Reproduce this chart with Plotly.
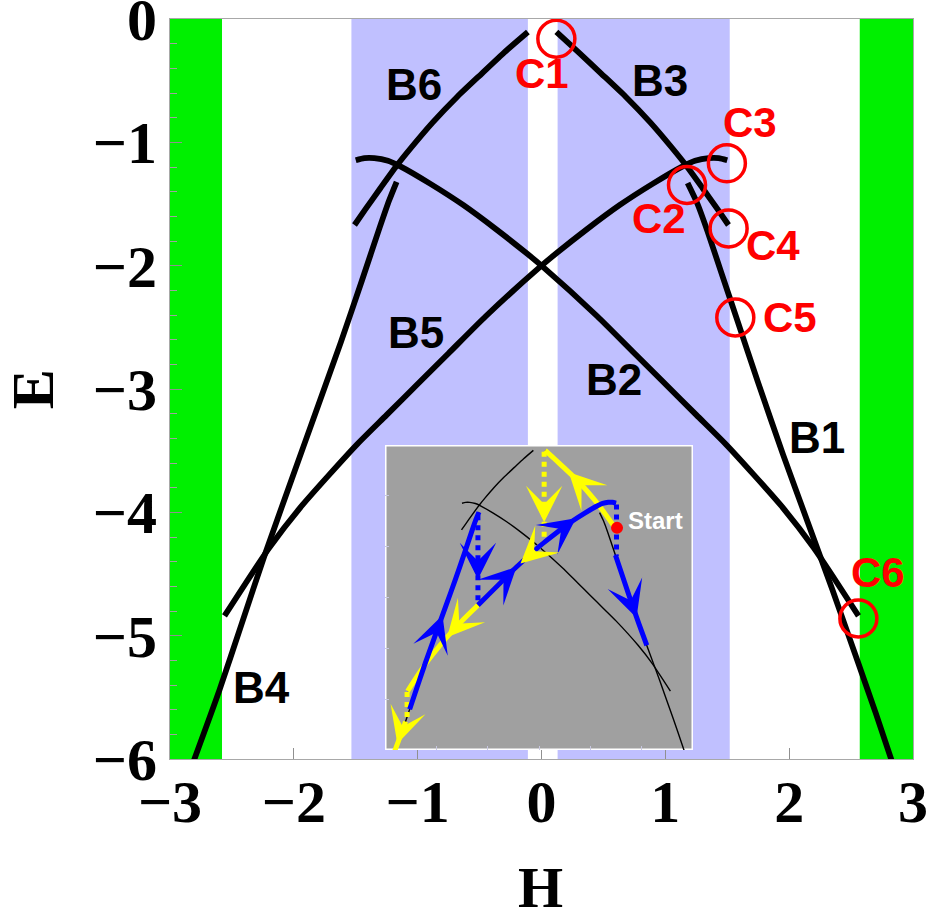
import plotly.graph_objects as go

# ---- energy branches E(H) ----
B1_H = [1.18, 1.26, 1.34, 1.45, 1.58, 1.75, 1.95, 2.15, 2.35, 2.55, 2.70, 2.83]
B1_E = [-1.33, -1.50, -1.72, -2.05, -2.44, -2.95, -3.53, -4.08, -4.63, -5.20, -5.63, -6.02]

B4_H = [-1.17, -1.23, -1.31, -1.45, -1.62, -1.82, -2.02, -2.24, -2.42, -2.60, -2.81]
B4_E = [-1.32, -1.47, -1.70, -2.12, -2.62, -3.18, -3.74, -4.36, -4.90, -5.44, -6.02]

B3_H = [0.12, 0.30, 0.48, 0.68, 0.88, 1.05, 1.17, 1.30, 1.42, 1.51]
B3_E = [-0.105, -0.27, -0.44, -0.63, -0.84, -1.04, -1.19, -1.37, -1.54, -1.67]

B6_H = [-0.11, -0.30, -0.48, -0.68, -0.88, -1.05, -1.17, -1.30, -1.42, -1.51]
B6_E = [-0.105, -0.27, -0.44, -0.63, -0.84, -1.04, -1.19, -1.37, -1.54, -1.67]

B2_H = [-1.50, -1.43, -1.35, -1.24, -1.14, -0.90, -0.63, -0.36, -0.12, 0.0,
        0.45, 0.75, 1.00, 1.25, 1.50, 1.93, 2.20, 2.56]
B2_E = [-1.145, -1.128, -1.128, -1.15, -1.195, -1.335, -1.51, -1.71, -1.90, -2.0,
        -2.41, -2.71, -2.96, -3.21, -3.46, -3.94, -4.29, -4.84]

B5_H = [-2.56, -2.20, -1.93, -1.50, -1.25, -1.00, -0.75, -0.45, 0.0, 0.12,
        0.36, 0.63, 0.90, 1.14, 1.24, 1.35, 1.43, 1.50]
B5_E = [-4.84, -4.29, -3.94, -3.46, -3.21, -2.96, -2.71, -2.41, -2.0, -1.90,
        -1.71, -1.51, -1.335, -1.195, -1.15, -1.128, -1.128, -1.145]

# field windows
GREEN_BANDS = [(-3.0, -2.58), (2.57, 3.0)]
BLUE_BANDS = [(-1.535, -0.11), (0.13, 1.52)]

# critical points
C_NAMES = ["C1", "C2", "C3", "C4", "C5", "C6"]
C_H = [0.12, 1.175, 1.497, 1.511, 1.565, 2.559]
C_E = [-0.16, -1.346, -1.170, -1.698, -2.42, -4.861]
C_LABEL_H = [0.0, 0.946, 1.68, 1.873, 2.008, 2.72]
C_LABEL_E = [-0.44, -1.62, -0.84, -1.84, -2.42, -4.49]

B_NAMES = ["B1", "B2", "B3", "B4", "B5", "B6"]
B_LABEL_H = [2.223, 0.583, 0.96, -2.258, -1.016, -1.03]
B_LABEL_E = [-3.39, -2.92, -0.50, -5.42, -2.54, -0.53]

X_TICKS = [-3, -2, -1, 0, 1, 2, 3]
X_TICKTEXT = ["\u22123", "\u22122", "\u22121", "0", "1", "2", "3"]
Y_TICKS = [0, -1, -2, -3, -4, -5, -6]
Y_TICKTEXT = ["0", "\u22121", "\u22122", "\u22123", "\u22124", "\u22125", "\u22126"]

# ---- hysteresis paths shown in the inset ----
# yellow: B3 up to C1, drop to B5, down B5, drop to B4
YEL_DROP1_H, YEL_DROP1_E = [0.10, 0.10], [-0.13, -1.92]
YEL_B5_H = [0.10, 0.0, -0.45, -0.75, -1.00, -1.25, -1.50, -1.93, -2.20, -2.56]
YEL_B5_E = [-1.915, -2.0, -2.41, -2.71, -2.96, -3.21, -3.46, -3.94, -4.29, -4.84]
YEL_DROP2_H, YEL_DROP2_E = [-2.57, -2.57], [-4.86, -5.40]
YEL_B4_H = [-2.60, -2.70, -2.81]
YEL_B4_E = [-5.44, -5.72, -6.02]

# blue: up B4, drop to B5, up B5 to C3, drop to B1, down B1
BLU_B4_H = [-2.52, -2.42, -2.24, -2.02, -1.82, -1.62, -1.45, -1.31, -1.23, -1.17]
BLU_B4_E = [-5.20, -4.90, -4.36, -3.74, -3.18, -2.62, -2.12, -1.70, -1.47, -1.32]
BLU_DROP1_H, BLU_DROP1_E = [-1.19, -1.19], [-1.38, -3.13]
BLU_B5_H = [-1.19, -1.00, -0.75, -0.45, 0.0, 0.12, 0.36, 0.63, 0.90, 1.14, 1.24, 1.35, 1.43, 1.50]
BLU_B5_E = [-3.15, -2.96, -2.71, -2.41, -2.0, -1.90, -1.71, -1.51, -1.335, -1.195, -1.15, -1.128, -1.128, -1.145]
BLU_DROP2_H, BLU_DROP2_E = [1.51, 1.51], [-1.17, -2.18]
BLU_B1_H = [1.49, 1.58, 1.75, 1.95, 2.10]
BLU_B1_E = [-2.17, -2.44, -2.95, -3.53, -3.94]

START_H, START_E = 1.52, -1.63

# arrow heads along the paths: (tail H, tail E, tip H, tip E)
BLUE_ARROWS = [
    (1.78, -3.04, 1.90, -3.40),
    (-2.00, -3.70, -1.88, -3.35),
    (-1.19, -2.30, -1.19, -2.64),
    (-0.65, -2.61, -0.44, -2.40),
    (0.45, -1.64, 0.72, -1.44),
]
YELLOW_ARROWS = [
    (0.80, -0.76, 0.58, -0.535),
    (0.10, -1.18, 0.10, -1.52),
    (-0.12, -2.11, -0.36, -2.33),
    (-1.55, -3.51, -1.79, -3.78),
    (-2.66, -5.55, -2.76, -5.88),
]

BLUE = "#0000ff"
YELLOW = "#ffff00"
RED = "#ff0000"

fig = go.Figure()

# main panel branches
for h, e in [(B1_H, B1_E), (B2_H, B2_E), (B3_H, B3_E),
             (B4_H, B4_E), (B5_H, B5_E), (B6_H, B6_E)]:
    fig.add_trace(go.Scatter(x=h, y=e, mode="lines", xaxis="x", yaxis="y",
                             line=dict(color="black", width=5.8, shape="spline", smoothing=0.6),
                             hoverinfo="skip"))

# critical-point rings
fig.add_trace(go.Scatter(x=C_H, y=C_E, mode="markers", xaxis="x", yaxis="y",
                         marker=dict(symbol="circle-open", size=37, color=RED,
                                     line=dict(color=RED, width=3.5)),
                         hoverinfo="skip"))

# inset: thin branches
for h, e in [(B1_H, B1_E), (B2_H, B2_E), (B3_H, B3_E),
             (B4_H, B4_E), (B5_H, B5_E), (B6_H, B6_E)]:
    fig.add_trace(go.Scatter(x=h, y=e, mode="lines", xaxis="x2", yaxis="y2",
                             line=dict(color="black", width=1.4, shape="spline", smoothing=0.6),
                             hoverinfo="skip"))


def path(h, e, color, dash="solid"):
    fig.add_trace(go.Scatter(x=h, y=e, mode="lines", xaxis="x2", yaxis="y2",
                             line=dict(color=color, width=5, dash=dash,
                                       shape="spline" if dash == "solid" else "linear",
                                       smoothing=0.6),
                             hoverinfo="skip"))


path(B3_H, B3_E, YELLOW)
path(YEL_DROP1_H, YEL_DROP1_E, YELLOW, "dot")
path(YEL_B5_H, YEL_B5_E, YELLOW)
path(YEL_DROP2_H, YEL_DROP2_E, YELLOW, "dot")
path(YEL_B4_H, YEL_B4_E, YELLOW)

path(BLU_B4_H, BLU_B4_E, BLUE)
path(BLU_DROP1_H, BLU_DROP1_E, BLUE, "dot")
path(BLU_B5_H, BLU_B5_E, BLUE)
path(BLU_DROP2_H, BLU_DROP2_E, BLUE, "dot")
path(BLU_B1_H, BLU_B1_E, BLUE)

fig.add_trace(go.Scatter(x=[START_H], y=[START_E], mode="markers", xaxis="x2", yaxis="y2",
                         marker=dict(size=12, color=RED), hoverinfo="skip"))

shapes = []
for x0, x1 in GREEN_BANDS:
    shapes.append(dict(type="rect", xref="x", yref="y", x0=x0, x1=x1, y0=-6, y1=0,
                       fillcolor="#00f000", line_width=0, layer="below"))
for x0, x1 in BLUE_BANDS:
    shapes.append(dict(type="rect", xref="x", yref="y", x0=x0, x1=x1, y0=-6, y1=0,
                       fillcolor="#c0c0ff", line_width=0, layer="below"))
# inset panel
shapes.append(dict(type="rect", xref="x2", yref="y2", x0=-3, x1=3, y0=-6, y1=0,
                   fillcolor="#a0a0a0", line=dict(color="white", width=3), layer="below"))

annotations = []
for name, x, y in zip(B_NAMES, B_LABEL_H, B_LABEL_E):
    annotations.append(dict(x=x, y=y, xref="x", yref="y", text=name, showarrow=False,
                            font=dict(family="Liberation Sans", size=44, color="black", weight="bold")))
for name, x, y in zip(C_NAMES, C_LABEL_H, C_LABEL_E):
    annotations.append(dict(x=x, y=y, xref="x", yref="y", text=name, showarrow=False,
                            font=dict(family="Liberation Sans", size=42, color=RED, weight="bold")))

annotations.append(dict(x=1.70, y=-1.49, xref="x2", yref="y2", text="Start", showarrow=False,
                        xanchor="left",
                        font=dict(family="Liberation Sans", size=24, color="white", weight="bold")))

for arrows, color in [(BLUE_ARROWS, BLUE), (YELLOW_ARROWS, YELLOW)]:
    for tx, ty, hx, hy in arrows:
        annotations.append(dict(x=hx, y=hy, ax=tx, ay=ty, xref="x2", yref="y2",
                                axref="x2", ayref="y2", text="", showarrow=True,
                                arrowhead=3, arrowsize=1.35, arrowwidth=4.5,
                                arrowcolor=color, standoff=0))

# axis titles
annotations.append(dict(x=0.4993, y=-0.174, xref="paper", yref="paper", text="H",
                        showarrow=False, yanchor="middle",
                        font=dict(family="Liberation Serif", size=58, color="black", weight="bold")))
annotations.append(dict(x=-0.184, y=0.5, xref="paper", yref="paper", text="E",
                        showarrow=False, textangle=-90, xanchor="center",
                        font=dict(family="Liberation Serif", size=60, color="black", weight="bold")))

tickfont = dict(family="Liberation Serif", size=60, color="black", weight="bold")
frame = "#a8a8a8"

fig.update_layout(
    width=930, height=921,
    margin=dict(l=170, r=17, t=19, b=162, autoexpand=False),
    paper_bgcolor="white", plot_bgcolor="white",
    showlegend=False,
    shapes=shapes, annotations=annotations,
    xaxis=dict(domain=[0, 1], range=[-3, 3], tickmode="array", tickvals=X_TICKS,
               ticktext=X_TICKTEXT, ticks="inside", ticklen=11, tickcolor="#909090",
               tickfont=tickfont, showgrid=False, zeroline=False, showline=True,
               linecolor=frame, linewidth=1.2, mirror=True, ticklabelstandoff=-10,
               automargin=False, ticklabeloverflow="allow"),
    yaxis=dict(domain=[0, 1], range=[-6, 0], tickmode="array", tickvals=Y_TICKS,
               ticktext=Y_TICKTEXT, ticks="inside", ticklen=12, tickcolor="#909090",
               tickfont=tickfont, showgrid=False, zeroline=False, showline=True,
               linecolor=frame, linewidth=1.2, mirror=True, ticklabelstandoff=0,
               automargin=False, ticklabeloverflow="allow",
               minor=dict(tick0=0, dtick=0.2, ticks="inside", ticklen=7,
                          tickcolor="#a0a0a0", showgrid=False)),
    xaxis2=dict(domain=[0.2894, 0.7039], anchor="y2", range=[-3, 3], showticklabels=False,
                tickvals=X_TICKS, ticks="inside", ticklen=4, tickcolor="#c8c8e0",
                showgrid=False, zeroline=False, showline=False),
    yaxis2=dict(domain=[0.0122, 0.4243], anchor="x2", range=[-6, 0], showticklabels=False,
                tickvals=Y_TICKS, ticks="inside", ticklen=4, tickcolor="#c8c8e0",
                showgrid=False, zeroline=False, showline=False),
)

fig.write_html("out.html")
